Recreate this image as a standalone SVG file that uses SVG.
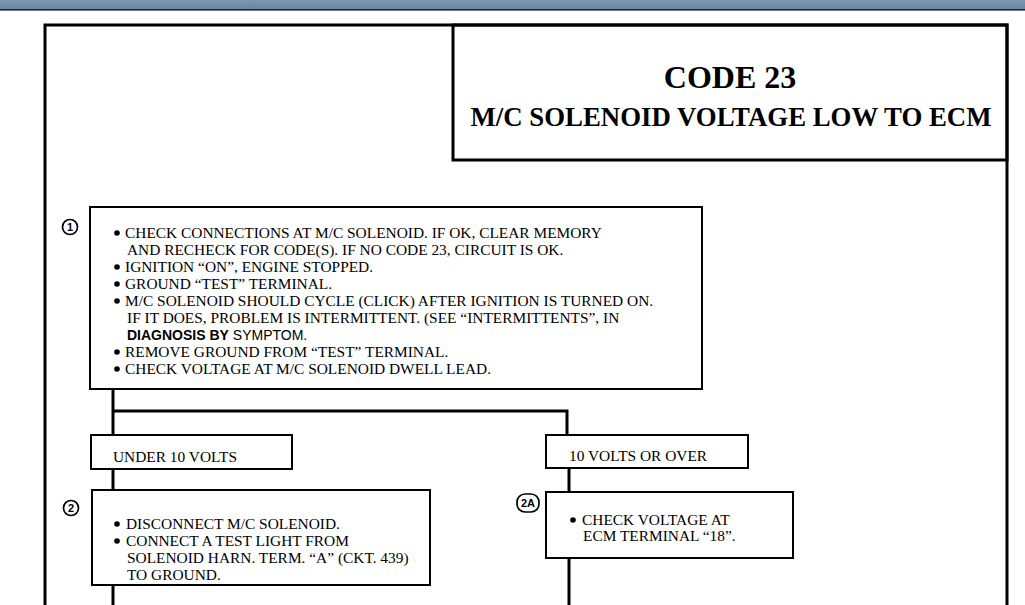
<svg xmlns="http://www.w3.org/2000/svg" width="1025" height="605" viewBox="0 0 1025 605">
<defs>
<linearGradient id="bar" x1="0" y1="0" x2="0" y2="1">
<stop offset="0" stop-color="#7d96b0"/>
<stop offset="1" stop-color="#6b86a2"/>
</linearGradient>
</defs>
<style>
.box{fill:#fff;stroke:#000;stroke-width:2}
.frame{fill:none;stroke:#000;stroke-width:3}
.conn{fill:none;stroke:#000;stroke-width:3}
.t{font-family:"Liberation Serif","Times New Roman",serif;font-size:15.4px;fill:#000}
.s{font-family:"Liberation Sans",Arial,sans-serif;font-size:14px;fill:#000}
.dot{fill:#000}
.title{font-family:"Liberation Serif","Times New Roman",serif;font-weight:bold;fill:#000;text-anchor:middle}
.num{fill:#fff;stroke:#000;stroke-width:1.7}
.numt{font-family:"Liberation Sans",Arial,sans-serif;font-weight:bold;font-size:11px;fill:#000;text-anchor:middle}
</style>
<rect x="0" y="0" width="1025" height="605" fill="#fff"/>
<rect x="0" y="0" width="1025" height="9" fill="url(#bar)"/>
<rect x="0" y="9" width="1025" height="1.6" fill="#1b2633"/>

<g id="frame">
<path class="frame" d="M45,605 V25 H1007 V605"/>
</g>

<g id="title">
<rect class="frame" x="453" y="25" width="554" height="135"/>
<text class="title" x="730" y="88" font-size="32">CODE 23</text>
<text class="title" x="731" y="126" font-size="26.8">M/C SOLENOID VOLTAGE LOW TO ECM</text>
</g>

<g id="connectors">
<path class="conn" d="M113,389 V435"/>
<path class="conn" d="M113,411 H567 V435"/>
<path class="conn" d="M113,469 V490"/>
<path class="conn" d="M113,585 V605"/>
<path class="conn" d="M569,468 V492"/>
<path class="conn" d="M569,558 V605"/>
</g>

<g id="step1">
<rect class="box" x="90" y="207" width="612" height="182"/>
<circle class="num" cx="70" cy="227" r="7.5"/>
<text class="numt" x="70" y="231">1</text>
<circle class="dot" cx="117" cy="233" r="2.8"/>
<text class="t" x="125" y="238">CHECK CONNECTIONS AT M/C SOLENOID. IF OK, CLEAR MEMORY</text>
<text class="t" x="127" y="255">AND RECHECK FOR  CODE(S). IF NO CODE 23, CIRCUIT IS OK.</text>
<circle class="dot" cx="117" cy="267" r="2.8"/>
<text class="t" x="125" y="272">IGNITION “ON”, ENGINE STOPPED.</text>
<circle class="dot" cx="117" cy="284" r="2.8"/>
<text class="t" x="125" y="289">GROUND “TEST” TERMINAL.</text>
<circle class="dot" cx="117" cy="301" r="2.8"/>
<text class="t" x="125" y="306">M/C SOLENOID SHOULD CYCLE (CLICK) AFTER IGNITION IS TURNED ON.</text>
<text class="t" x="127" y="323">IF IT DOES, PROBLEM IS INTERMITTENT. (SEE “INTERMITTENTS”, IN</text>
<text class="s" x="127" y="340"><tspan font-weight="bold">DIAGNOSIS BY</tspan> SYMPTOM.</text>
<circle class="dot" cx="117" cy="352" r="2.8"/>
<text class="t" x="125" y="357">REMOVE GROUND FROM “TEST” TERMINAL.</text>
<circle class="dot" cx="117" cy="369" r="2.8"/>
<text class="t" x="125" y="374">CHECK VOLTAGE AT M/C SOLENOID DWELL LEAD.</text>
</g>

<g id="under10">
<rect class="box" x="91" y="435" width="201" height="34"/>
<text class="t" x="113" y="462">UNDER 10 VOLTS</text>
</g>

<g id="over10">
<rect class="box" x="546" y="435" width="202" height="33"/>
<text class="t" x="569" y="461">10 VOLTS OR OVER</text>
</g>

<g id="step2">
<rect class="box" x="92" y="490" width="338" height="95"/>
<circle class="num" cx="71" cy="508" r="7.5"/>
<text class="numt" x="71" y="512">2</text>
<circle class="dot" cx="117" cy="524" r="2.8"/>
<text class="t" x="126" y="529">DISCONNECT M/C SOLENOID.</text>
<circle class="dot" cx="117" cy="541" r="2.8"/>
<text class="t" x="126" y="546">CONNECT A TEST LIGHT FROM</text>
<text class="t" x="127" y="563">SOLENOID HARN. TERM. “A” (CKT. 439)</text>
<text class="t" x="127" y="580">TO GROUND.</text>
</g>

<g id="step2a">
<rect class="box" x="546" y="492" width="247" height="66"/>
<rect class="num" x="517" y="494" width="22" height="18" rx="8"/>
<text class="numt" x="528" y="507">2A</text>
<circle class="dot" cx="573" cy="520" r="2.8"/>
<text class="t" x="582" y="525">CHECK VOLTAGE AT</text>
<text class="t" x="583" y="541">ECM TERMINAL “18”.</text>
</g>
</svg>
